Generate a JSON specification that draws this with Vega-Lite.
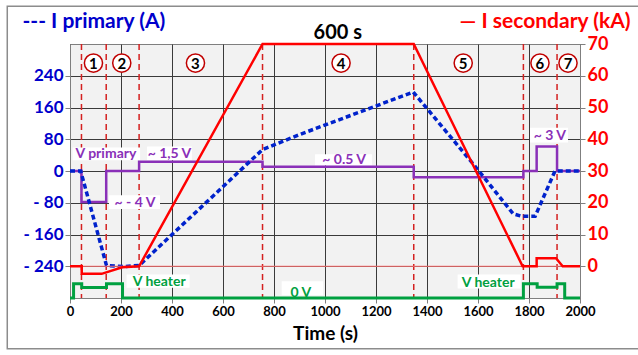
{
  "$schema": "https://vega.github.io/schema/vega-lite/v6.json",
  "width": 510,
  "height": 254,
  "autosize": {"type": "none"},
  "padding": {"left": 70, "top": 44, "right": 58, "bottom": 57},
  "background": "white",
  "config": {"view": {"fill": "#f2f2f2", "stroke": "#7f7f7f", "strokeWidth": 1}, "font": "Lato"},
  "datasets": {
    "blue": [{"t":0,"v":0},{"t":42,"v":0},{"t":143,"v":-238},{"t":210,"v":-241},{"t":271,"v":-238},{"t":755,"v":54},{"t":905,"v":93},{"t":1346,"v":199},{"t":1582,"v":17},{"t":1738,"v":-108},{"t":1771,"v":-114},{"t":1824,"v":-114},{"t":1902,"v":0},{"t":2000,"v":0}],
    "vprim": [{"t":0,"v":0},{"t":45,"v":-78},{"t":142,"v":0},{"t":271,"v":23},{"t":755,"v":11},{"t":1348,"v":-16},{"t":1778,"v":0},{"t":1830,"v":62},{"t":1910,"v":0},{"t":2000,"v":0}],
    "isec": [{"i":1,"t":0,"v":0},{"i":2,"t":46,"v":0},{"i":3,"t":46,"v":-2.4},{"i":4,"t":124,"v":-2.4},{"i":5,"t":205,"v":-0.3},{"i":6,"t":271,"v":0},{"i":7,"t":755,"v":70},{"i":8,"t":1348,"v":70},{"i":9,"t":1775,"v":0},{"i":10,"t":1830,"v":0},{"i":11,"t":1830,"v":2.5},{"i":12,"t":1906,"v":2.5},{"i":13,"t":1932,"v":0},{"i":14,"t":2000,"v":0}],
    "zero": [{"i":1,"t":0,"v":0},{"i":2,"t":2000,"v":0}],
    "heater": [{"i":1,"t":0,"v":-10},{"i":2,"t":14,"v":-5.5},{"i":3,"t":46,"v":-6.7},{"i":4,"t":143,"v":-5.5},{"i":5,"t":206,"v":-10},{"i":6,"t":1778,"v":-5.5},{"i":7,"t":1832,"v":-6.6},{"i":8,"t":1910,"v":-5.5},{"i":9,"t":1940,"v":-10},{"i":10,"t":2000,"v":-10}],
    "phases": [{"t":45},{"t":142},{"t":271},{"t":755},{"t":1348},{"t":1778},{"t":1910}],
    "circles": [{"t":92,"v":64,"n":"1"},{"t":203,"v":64,"n":"2"},{"t":492,"v":64,"n":"3"},{"t":1063,"v":64,"n":"4"},{"t":1542,"v":64,"n":"5"},{"t":1843,"v":64,"n":"6"},{"t":1953,"v":64,"n":"7"}],
    "boxes": [{"t1":10,"t2":275,"v1":27,"v2":59},{"t1":302,"t2":478,"v1":27,"v2":62},{"t1":153,"t2":353,"v1":-96,"v2":-61},{"t1":961,"t2":1184,"v1":14,"v2":42},{"t1":1804,"t2":1953,"v1":72,"v2":109},{"t1":222,"t2":469,"v1":-294,"v2":-261},{"t1":830,"t2":993,"v1":-313,"v2":-278},{"t1":1520,"t2":1767,"v1":-296,"v2":-261}],
    "plabels": [{"t":141,"v":44,"s":"V primary"},{"t":390,"v":44,"s":"~ 1,5 V"},{"t":255,"v":-81,"s":"~  - 4 V"},{"t":1075,"v":27.5,"s":"~  0.5 V"},{"t":1882,"v":88,"s":"~ 3 V"}],
    "glabels": [{"t":350,"v":-5.1,"s":"V heater"},{"t":905,"v":-8.3,"s":"0 V"},{"t":1640,"v":-5.3,"s":"V heater"}],
    "toplabel": [{"t":1050,"v":73.5,"s":"600 s"}]
  },
  "layer": [
    {
      "layer": [
        {
          "data": {"name": "blue"},
          "mark": {"type": "line", "color": "#0022cc", "strokeWidth": 3, "opacity": 0},
          "encoding": {
            "x": {
              "field": "t", "type": "quantitative", "scale": {"domain": [0, 2000], "nice": false},
              "axis": {
                "values": [0,200,400,600,800,1000,1200,1400,1600,1800,2000],
                "format": "d", "labelOverlap": false, "labelFlush": false,
                "grid": true, "gridColor": "#3a3a3a", "gridWidth": 1,
                "domainColor": "#7f7f7f", "tickColor": "#7f7f7f", "tickSize": 5,
                "labelFont": "Lato", "labelFontWeight": "bold", "labelFontSize": 13, "labelColor": "black", "labelPadding": 2,
                "title": "Time (s)", "titleFont": "Lato", "titleFontWeight": "bold", "titleFontSize": 19, "titleColor": "black", "titlePadding": 6
              }
            },
            "y": {
              "field": "v", "type": "quantitative", "scale": {"domain": [-320, 320], "nice": false},
              "axis": {
                "values": [-240,-160,-80,0,80,160,240],
                "labelExpr": "datum.value < 0 ? '- ' + abs(datum.value) : '' + datum.value",
                "labelOverlap": false,
                "grid": true, "gridColor": "#3a3a3a", "gridWidth": 1,
                "domainColor": "#7f7f7f", "tickColor": "#7f7f7f", "tickSize": 5,
                "labelFont": "Lato", "labelFontWeight": "bold", "labelFontSize": 17, "labelColor": "#0000cc", "labelPadding": 2,
                "title": "--- I primary (A)", "titleAngle": 0, "titleAlign": "left", "titleBaseline": "middle",
                "titleX": -48, "titleY": -23, "titleFont": "Lato", "titleFontWeight": "bold", "titleFontSize": 21, "titleColor": "#0000cc"
              }
            }
          }
        },
        {
          "data": {"values": [{"t1":-246,"t2":2400,"v1":-448,"v2":415}]},
          "mark": {"type": "rect", "filled": false, "stroke": "#8c8c8c", "strokeWidth": 1.5, "clip": false},
          "encoding": {
            "x": {"field": "t1", "type": "quantitative", "scale": {"domain": [0, 2000], "nice": false}},
            "x2": {"field": "t2"},
            "y": {"field": "v1", "type": "quantitative", "scale": {"domain": [-320, 320], "nice": false}},
            "y2": {"field": "v2"}
          }
        },
        {
          "data": {"name": "phases"},
          "mark": {"type": "rule", "color": "#d42020", "strokeWidth": 1.5, "strokeDash": [6, 4]},
          "encoding": {
            "x": {"field": "t", "type": "quantitative", "scale": {"domain": [0, 2000], "nice": false}}
          }
        },
        {
          "data": {"name": "boxes"},
          "mark": {"type": "rect", "color": "white"},
          "encoding": {
            "x": {"field": "t1", "type": "quantitative", "scale": {"domain": [0, 2000], "nice": false}},
            "x2": {"field": "t2"},
            "y": {"field": "v1", "type": "quantitative", "scale": {"domain": [-320, 320], "nice": false}},
            "y2": {"field": "v2"}
          }
        },
        {
          "data": {"name": "vprim"},
          "mark": {"type": "line", "color": "#8a30b8", "strokeWidth": 2.5, "interpolate": "step-after"},
          "encoding": {
            "x": {"field": "t", "type": "quantitative", "scale": {"domain": [0, 2000], "nice": false}},
            "y": {"field": "v", "type": "quantitative", "scale": {"domain": [-320, 320], "nice": false}}
          }
        },
        {
          "data": {"name": "blue"},
          "mark": {"type": "line", "color": "#0022cc", "strokeWidth": 3.5, "strokeDash": [5, 3]},
          "encoding": {
            "x": {"field": "t", "type": "quantitative", "scale": {"domain": [0, 2000], "nice": false}},
            "y": {"field": "v", "type": "quantitative", "scale": {"domain": [-320, 320], "nice": false}}
          }
        },
        {
          "data": {"name": "plabels"},
          "mark": {"type": "text", "color": "#8a30b8", "font": "Lato", "fontWeight": "bold", "fontSize": 14, "align": "center", "baseline": "middle"},
          "encoding": {
            "x": {"field": "t", "type": "quantitative", "scale": {"domain": [0, 2000], "nice": false}},
            "y": {"field": "v", "type": "quantitative", "scale": {"domain": [-320, 320], "nice": false}},
            "text": {"field": "s"}
          }
        }
      ]
    },
    {
      "encoding": {
        "x": {"field": "t", "type": "quantitative", "scale": {"domain": [0, 2000], "nice": false}},
        "y": {
          "field": "v", "type": "quantitative", "scale": {"domain": [-10, 70], "nice": false},
          "axis": {
            "orient": "right",
            "values": [0,10,20,30,40,50,60,70],
            "tickCount": 8,
            "labelOverlap": false,
            "grid": false,
            "domainColor": "#7f7f7f", "tickColor": "#7f7f7f", "tickSize": 5,
            "labelFont": "Lato", "labelFontWeight": "bold", "labelFontSize": 18, "labelColor": "#ff0000", "labelPadding": 2,
            "title": "— I secondary (kA)", "titleAngle": 0, "titleAlign": "right", "titleBaseline": "middle",
            "titleX": 50, "titleY": -23, "titleFont": "Lato", "titleFontWeight": "bold", "titleFontSize": 21, "titleColor": "#ff0000"
          }
        }
      },
      "layer": [
        {
          "data": {"name": "zero"},
          "mark": {"type": "line", "color": "#ff7070", "strokeWidth": 1},
          "encoding": {"order": {"field": "i", "type": "quantitative"}}
        },
        {
          "data": {"name": "isec"},
          "mark": {"type": "line", "color": "#ff0000", "strokeWidth": 2.5},
          "encoding": {"order": {"field": "i", "type": "quantitative"}}
        },
        {
          "data": {"name": "heater"},
          "mark": {"type": "line", "color": "#00a040", "strokeWidth": 3, "interpolate": "step-after", "clip": false},
          "encoding": {"order": {"field": "i", "type": "quantitative"}}
        },
        {
          "data": {"name": "circles"},
          "mark": {"type": "point", "shape": "circle", "size": 330, "filled": true, "fill": "white", "stroke": "#c00000", "strokeWidth": 1.5, "opacity": 1},
          "encoding": {}
        },
        {
          "data": {"name": "circles"},
          "mark": {"type": "text", "color": "black", "font": "Lato", "fontWeight": "bold", "fontSize": 15, "align": "center", "baseline": "middle", "dy": 1},
          "encoding": {"text": {"field": "n"}}
        },
        {
          "data": {"name": "glabels"},
          "mark": {"type": "text", "color": "#00a040", "font": "Lato", "fontWeight": "bold", "fontSize": 14, "align": "center", "baseline": "middle"},
          "encoding": {"text": {"field": "s"}}
        },
        {
          "data": {"name": "toplabel"},
          "mark": {"type": "text", "color": "black", "font": "Lato", "fontWeight": "bold", "fontSize": 20, "align": "center", "baseline": "middle"},
          "encoding": {"text": {"field": "s"}}
        }
      ]
    }
  ],
  "resolve": {"scale": {"y": "independent"}}
}
